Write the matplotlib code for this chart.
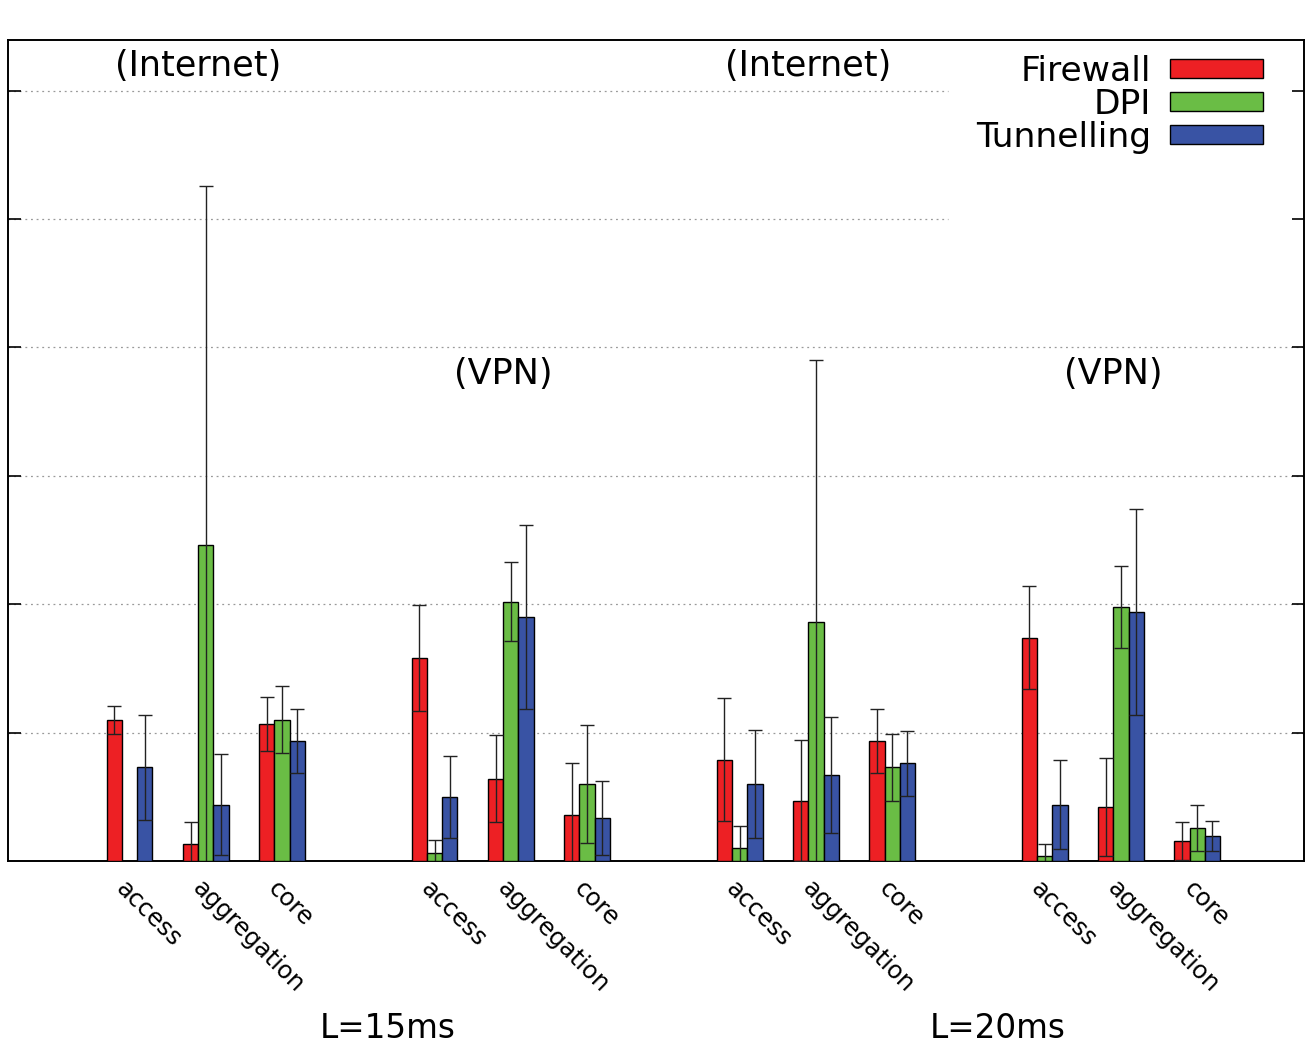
import numpy as np
import matplotlib
matplotlib.use("Agg")
import matplotlib.pyplot as plt
import matplotlib.transforms as mtransforms

# layer categories inside each cluster, clusters = (latency, scenario)
categories = ["access", "aggregation", "core"]
clusters = ["L=15ms Internet", "L=15ms VPN", "L=20ms Internet", "L=20ms VPN"]
series = ["Firewall", "DPI", "Tunnelling"]

# values in grid units, cluster by cluster (access, aggregation, core)
firewall = [1.10, 0.13, 1.07, 1.58, 0.64, 0.36, 0.79, 0.47, 0.935, 1.74, 0.42, 0.156]
firewall_err = [0.11, 0.17, 0.21, 0.41, 0.34, 0.40, 0.48, 0.47, 0.25, 0.40, 0.38, 0.15]
dpi = [np.nan, 2.46, 1.10, 0.06, 2.02, 0.60, 0.10, 1.86, 0.73, 0.04, 1.98, 0.26]
dpi_err = [np.nan, 2.80, 0.26, 0.10, 0.31, 0.46, 0.17, 2.04, 0.26, 0.09, 0.32, 0.18]
tunnel = [0.73, 0.44, 0.935, 0.50, 1.90, 0.335, 0.60, 0.67, 0.76, 0.44, 1.94, 0.195]
tunnel_err = [0.41, 0.39, 0.25, 0.32, 0.72, 0.29, 0.42, 0.45, 0.25, 0.35, 0.80, 0.115]

scenario_labels = ["(Internet)", "(VPN)", "(Internet)", "(VPN)"]
latency_labels = ["L=15ms", "L=20ms"]

colors = ["#ED2024", "#6ABD45", "#3953A4"]
BIG = 23.5

fig = plt.figure(figsize=(13.13, 10.5), dpi=100)
ax = fig.add_axes([8 / 1313, 1 - 861 / 1050, 1296 / 1313, 821 / 1050])

x = np.array([4 * c + k for c in range(len(clusters)) for k in range(len(categories))], float)
w = 0.2
data = [(firewall, firewall_err), (dpi, dpi_err), (tunnel, tunnel_err)]
for i, ((v, e), name) in enumerate(zip(data, series)):
    xi = x + (i - 1) * w
    ax.bar(xi, v, w, color=colors[i], edgecolor="black", lw=1.0, label=name, zorder=3)
    ax.errorbar(xi, v, yerr=e, fmt="none", ecolor="#222222", elinewidth=1.0,
                capsize=4.7, capthick=1.0, zorder=4)

ax.set_xlim(-1.593, 15.40)
ax.set_ylim(0, 6.394)

# dotted grid, top two lines cut where the legend sits
for g in range(1, 7):
    ax.axhline(g, xmax=0.725 if g >= 5 else 1.0, color="#999999", ls=(0, (1.5, 3)), lw=0.9, zorder=1)

ax.set_yticks(range(1, 7))
ax.tick_params(axis="y", which="both", direction="in", length=9, width=1.2,
               left=True, right=True, labelleft=False)
for sp in ax.spines.values():
    sp.set_linewidth(1.4)

ax.set_xticks(x, categories * len(clusters), rotation=-45, ha="left", va="center",
              rotation_mode="anchor", fontsize=17.5)
ax.tick_params(axis="x", length=0, pad=17)
off = mtransforms.ScaledTranslation(-10 / 100, 0, fig.dpi_scale_trans)
for lab in ax.get_xticklabels():
    lab.set_transform(lab.get_transform() + off)

for c, lab in enumerate(scenario_labels):
    yy = 6.19 if lab == "(Internet)" else 3.79
    ax.text(4 * c + 0.9, yy, lab, ha="center", va="center", fontsize=25.2)

for j, lab in enumerate(latency_labels):
    fig.text((8 * j + 3.39) * 76.25 / 1313 + 129.5 / 1313, 1 - 1028 / 1050, lab,
             ha="center", va="center", fontsize=BIG)

ax.legend(loc="upper right", bbox_to_anchor=((1277 - 8) / 1296, 1 - (41 - 40) / 821),
          borderaxespad=0, frameon=False, markerfirst=False, fontsize=24.8,
          handlelength=2.7, handleheight=0.48, handletextpad=0.55, labelspacing=0.0)

fig.savefig("out.png", dpi=100)
